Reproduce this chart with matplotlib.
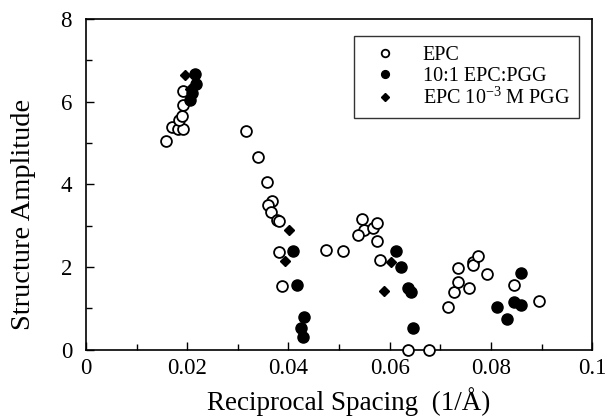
import matplotlib
matplotlib.use("Agg")
import matplotlib.pyplot as plt
from matplotlib.ticker import MultipleLocator

plt.rcParams['font.family'] = ['Liberation Serif', 'DejaVu Serif']
plt.rcParams['mathtext.default'] = 'regular'

# EPC (open circles)
epc_x = [0.0158, 0.0170, 0.0182, 0.0192, 0.0184, 0.0190, 0.0191, 0.0191,
         0.0317, 0.0339, 0.0358, 0.0368, 0.0360, 0.0366, 0.0378, 0.0382,
         0.0382, 0.0388,
         0.0475, 0.0507, 0.0545, 0.0550, 0.0537, 0.0566, 0.0574, 0.0574, 0.0580,
         0.0636, 0.0677,
         0.0715, 0.0727, 0.0735, 0.0735, 0.0756, 0.0764, 0.0764, 0.0774,
         0.0792, 0.0846, 0.0895]
epc_y = [5.05, 5.39, 5.34, 5.34, 5.56, 5.65, 5.92, 6.26,
         5.29, 4.66, 4.06, 3.60, 3.50, 3.33, 3.14, 3.12,
         2.37, 1.55,
         2.42, 2.39, 3.16, 2.90, 2.78, 2.95, 3.07, 2.63, 2.17,
         0.0, 0.0,
         1.04, 1.40, 1.64, 1.98, 1.50, 2.13, 2.05, 2.27,
         1.84, 1.57, 1.18]

# 10:1 EPC:PGG (filled circles)
pgg_x = [0.0215, 0.0218, 0.0210, 0.0205,
         0.0408, 0.0416, 0.0430, 0.0424, 0.0428,
         0.0612, 0.0622, 0.0636, 0.0642, 0.0646,
         0.0812, 0.0832, 0.0846, 0.0859, 0.0859]
pgg_y = [6.67, 6.42, 6.20, 6.04,
         2.39, 1.57, 0.80, 0.53, 0.31,
         2.39, 2.01, 1.50, 1.40, 0.53,
         1.04, 0.75, 1.16, 1.09, 1.86]

# EPC 10^-3 M PGG (diamonds)
dia_x = [0.0196, 0.0206, 0.0402, 0.0394, 0.0588, 0.0602]
dia_y = [6.64, 6.30, 2.90, 2.15, 1.43, 2.13]

xticks = [0, 0.02, 0.04, 0.06, 0.08, 0.1]
xtick_labels = ['0', '0.02', '0.04', '0.06', '0.08', '0.1']

fig = plt.figure(figsize=(6.05, 4.19), dpi=100)
ax = fig.add_axes([0.142, 0.165, 0.837, 0.790])

ax.plot(epc_x, epc_y, 'o', ms=7.8, mfc='white', mec='black', mew=1.3,
        ls='none', label='EPC', clip_on=False, zorder=3)
ax.plot(pgg_x, pgg_y, 'o', ms=8.0, color='black', ls='none',
        label='10:1 EPC:PGG', clip_on=False, zorder=4)
ax.plot(dia_x, dia_y, 'D', ms=5.5, color='black', ls='none',
        label='EPC 10$^{-3}$ M PGG', clip_on=False, zorder=4)

ax.set_xlim(0, 0.1)
ax.set_ylim(0, 8)
ax.set_xticks(xticks)
ax.set_xticklabels(xtick_labels)
ax.xaxis.set_minor_locator(MultipleLocator(0.01))
ax.yaxis.set_major_locator(MultipleLocator(2))
ax.yaxis.set_minor_locator(MultipleLocator(1))

ax.tick_params(which='major', direction='in', length=6, width=1, labelsize=16.5, pad=6)
ax.tick_params(which='minor', direction='in', length=4, width=1)
ax.tick_params(axis='y', which='major', pad=10)
for s in ax.spines.values():
    s.set_linewidth(1.2)

ax.set_xlabel('Reciprocal Spacing  (1/Å)', fontsize=19.5)
ax.set_ylabel('Structure Amplitude', fontsize=20.5)
ax.xaxis.set_label_coords(0.518, -0.113)
ax.yaxis.set_label_coords(-0.099, 0.41)

leg = ax.legend(loc='upper right', bbox_to_anchor=(0.974, 0.947), fontsize=14.5,
                frameon=True, fancybox=False, edgecolor='black', markerscale=0.7,
                handletextpad=0.75, borderpad=0.45, labelspacing=0.1,
                handlelength=2.2, borderaxespad=0)
leg.get_frame().set_linewidth(1.0)

fig.savefig('out.png', dpi=100)
